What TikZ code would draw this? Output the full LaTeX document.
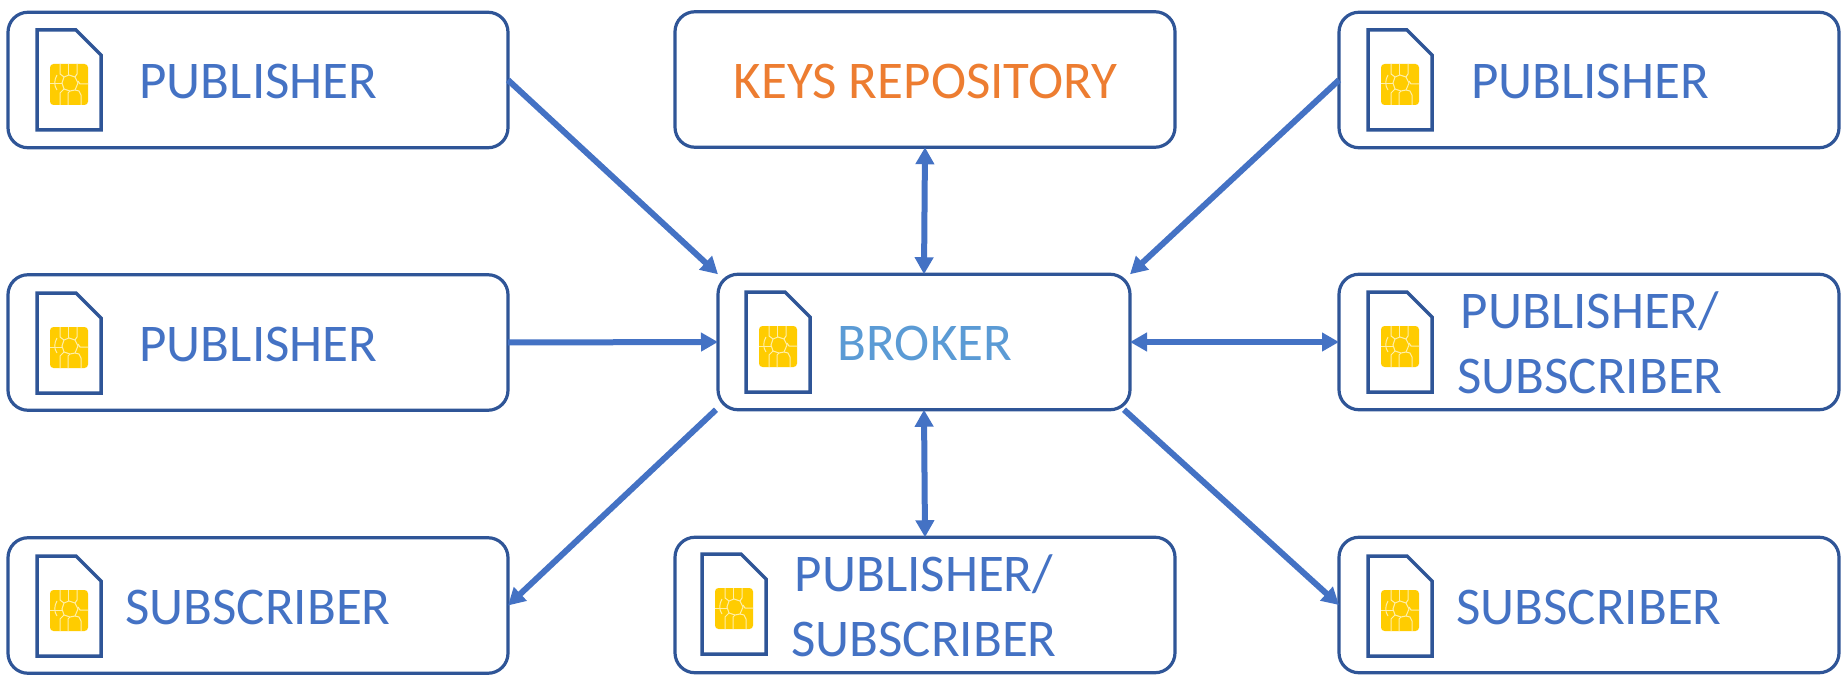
\documentclass[tikz,border=0pt]{standalone}
\usepackage{fontspec}
\setmainfont{Carlito}
\usetikzlibrary{arrows.meta,calc}
\definecolor{boxline}{HTML}{2F5597}
\definecolor{arrowblue}{HTML}{4472C4}
\definecolor{brokerblue}{HTML}{5B9BD5}
\definecolor{keyorange}{HTML}{ED7D31}
\definecolor{chipgold}{HTML}{FFCC00}
\definecolor{chipline}{HTML}{FFEFA8}
\tikzset{
  x=1pt,y=-1pt,
  card/.style={draw=boxline,line width=3.2pt,rounded corners=20pt,fill=white,inner sep=0pt,outer sep=0pt,minimum height=135.5pt},
  wide/.style={card,minimum width=500pt},
  label/.style={anchor=base,text=arrowblue,font=\fontsize{53}{60}\selectfont,inner sep=0pt},
  link/.style={draw=arrowblue,line width=6pt,-{Triangle[length=17pt,width=18pt]}},
  dlink/.style={draw=arrowblue,line width=6pt,{Triangle[length=17pt,width=18pt]}-{Triangle[length=17pt,width=18pt]}},
  simicon/.pic={
    \draw[boxline,line width=3.5pt,fill=white,miter limit=4] (0,0) -- (39,0) -- (64,25) -- (64,100) -- (0,100) -- cycle;
    \fill[chipgold,rounded corners=3.5pt] (13,34) rectangle (51,75);
    \begin{scope}[draw=chipline,line width=1pt]
      \draw (27,47) -- (32,45) -- (38,47) -- (41,53) -- (38,60) -- (33,61) -- (27,59) -- (25,53) -- cycle;
      \draw (23,34) -- (23,44) -- (27,47);
      \draw (31,34) -- (31,45);
      \draw (40,34) -- (40,44) -- (38,47);
      \draw (41,51) -- (43,54) -- (51,54);
      \draw (13,54) -- (25,54);
      \draw (27,59) -- (23,63) -- (23,75);
      \draw (33,61) -- (31,63) -- (31,75);
      \draw (38,60) -- (42,61) -- (44,65) -- (44,75);
      \draw (20,45) .. controls (17,50) and (17,56) .. (20,60);
    \end{scope}
  }
}
\begin{document}
\begin{tikzpicture}
\useasboundingbox (0,0) rectangle (1848,679);
% boxes
\node[wide] (p1) at (258,80) {};
\node[wide] (p2) at (258,342.5) {};
\node[wide] (s1) at (258,605.5) {};
\node[wide] (keys) at (925,79.5) {};
\node[card,minimum width=412pt] (broker) at (924,342) {};
\node[wide] (ps2) at (925,605) {};
\node[wide] (p3) at (1589,80) {};
\node[wide] (ps1) at (1589,342) {};
\node[wide] (s2) at (1589,605) {};
% icons
\pic at (37,30) {simicon};
\pic at (37,293) {simicon};
\pic at (37,556) {simicon};
\pic at (746,292) {simicon};
\pic at (702,554) {simicon};
\pic at (1368,30) {simicon};
\pic at (1368,292) {simicon};
\pic at (1368,556) {simicon};
% labels
\node[label] (tp1) at (258.5,99) {PUBLISHER};
\node[label] (tp2) at (258.5,361) {PUBLISHER};
\node[label] (ts1) at (258,624) {SUBSCRIBER};
\node[label,text=keyorange] (tk) at (925.5,99) {KEYS REPOSITORY};
\node[label,text=brokerblue] (tb) at (925,360.5) {BROKER};
\node[label] (tps2a) at (924,591) {PUBLISHER/};
\node[label] (tps2b) at (924,656) {SUBSCRIBER};
\node[label] (tp3) at (1590,99) {PUBLISHER};
\node[label] (tps1a) at (1590,328) {PUBLISHER/};
\node[label] (tps1b) at (1590,393) {SUBSCRIBER};
\node[label] (ts2) at (1589,624) {SUBSCRIBER};
% connectors
\draw[link] (p1.east) -- (broker.north west);
\draw[link] (p2.east) -- (broker.west);
\draw[link] (p3.west) -- (broker.north east);
\draw[link] ($(broker.south west)+(-2,0)$) -- (s1.east);
\draw[link] ($(broker.south east)+(-6,0)$) -- (s2.west);
\draw[dlink] (keys.south) -- (broker.north);
\draw[dlink] (broker.south) -- (ps2.north);
\draw[dlink] (broker.east) -- (ps1.west);
\end{tikzpicture}
\end{document}
